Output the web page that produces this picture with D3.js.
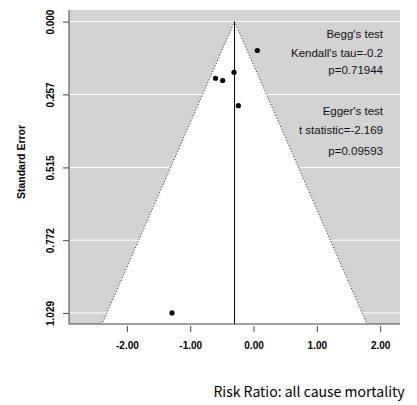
<!DOCTYPE html>
<html>
<head>
<meta charset="utf-8">
<script src="https://cdn.jsdelivr.net/npm/d3@7"></script>
<style>
  body { margin: 0; background: #fff; }
  svg { display: block; }
</style>
</head>
<body>
<svg width="417" height="405"></svg>
<script>
// data
const estimates = [0.06, -0.60, -0.487, -0.308, -0.239, -1.288]
const stdErrors = [0.102, 0.200, 0.208, 0.179, 0.297, 1.029]
const summary = -0.30
const xTicks = [-2, -1, 0, 1, 2]
const yTicks = [0, 0.257, 0.515, 0.772, 1.029]
const beggLines = ["Begg's test", "Kendall's tau=-0.2", "p=0.71944"]
const eggerLines = ["Egger's test", "t statistic=-2.169", "p=0.09593"]

//constants
const padL = 69, padR = 400, padT = 10, padB = 324
const svg = d3.select('svg')
const sans = 'Arial, "Liberation Sans", sans-serif'

//scales
const x = d3.scaleLinear().domain([-2.915, 2.314]).range([padL, padR])
const y = d3.scaleLinear().domain([-0.041, 1.068]).range([padT, padB])
const seMax = y.domain()[1]

svg.append('clipPath').attr('id', 'panel')
    .append('rect')
    .attr('x', padL).attr('y', padT)
    .attr('width', padR - padL).attr('height', padB - padT)

const g = svg.append('g').attr('clip-path', 'url(#panel)')

//background
g.append('rect')
    .attr('x', padL).attr('y', padT)
    .attr('width', padR - padL).attr('height', padB - padT)
    .attr('fill', '#d3d3d3')

//grid lines
g.selectAll('.grid')
    .data(yTicks)
    .enter()
    .append('line')
    .attr('x1', padL).attr('x2', padR)
    .attr('y1', d => y(d)).attr('y2', d => y(d))
    .attr('stroke', '#fff')
    .attr('stroke-width', 1)

//funnel
const funnel = [[summary, 0], [summary - 1.96 * seMax, seMax], [summary + 1.96 * seMax, seMax]]
g.append('polygon')
    .attr('points', funnel.map(d => x(d[0]) + ',' + y(d[1])).join(' '))
    .attr('fill', '#fff')

g.selectAll('.edge')
    .data([funnel[1], funnel[2]])
    .enter()
    .append('line')
    .attr('x1', x(summary)).attr('y1', y(0))
    .attr('x2', d => x(d[0])).attr('y2', d => y(d[1]))
    .attr('stroke', '#222')
    .attr('stroke-width', 1)
    .attr('stroke-dasharray', '1,2')

g.append('line')
    .attr('x1', x(summary)).attr('x2', x(summary))
    .attr('y1', y(0)).attr('y2', padB)
    .attr('stroke', '#000')
    .attr('stroke-width', 1)

//points
g.selectAll('circle')
    .data(estimates)
    .enter()
    .append('circle')
    .attr('cx', d => x(d))
    .attr('cy', (_, i) => y(stdErrors[i]))
    .attr('r', 2.6)
    .attr('fill', '#000')

//axis lines
svg.append('path')
    .attr('d', `M${padL},${padT}V${padB}H${padR}`)
    .attr('fill', 'none')
    .attr('stroke', '#444')
    .attr('stroke-width', 1)

//axes
const xAxis = svg.append('g')
    .attr('transform', 'translate(0,' + (padB + 2) + ')')
    .call(d3.axisBottom(x).tickValues(xTicks).tickSize(6))
xAxis.select('.domain').remove()
xAxis.selectAll('line').attr('stroke', '#444')
xAxis.selectAll('text')
    .attr('dy', '1.4em')
    .style('font-family', sans)
    .style('font-size', '10px')
    .style('font-weight', 'bold')
    .attr('fill', '#000')
    .text(d => d.toFixed(2))

const yAxis = svg.append('g')
    .attr('transform', 'translate(' + padL + ',0)')
    .call(d3.axisLeft(y).tickValues(yTicks).tickSize(6).tickFormat(d3.format('.3f')))
yAxis.select('.domain').remove()
yAxis.selectAll('line').attr('stroke', '#444')
yAxis.selectAll('text')
    .attr('x', 0).attr('dy', 0)
    .attr('transform', 'translate(-19,0) rotate(-90)')
    .attr('text-anchor', 'middle')
    .attr('dominant-baseline', 'central')
    .style('font-family', sans)
    .style('font-size', '10px')
    .style('font-weight', 'bold')
    .attr('fill', '#000')

//test annotations
const noteX = 383
const beggY = [38, 57, 74]
const eggerY = [115, 134, 155]
svg.selectAll('.begg')
    .data(beggLines)
    .enter()
    .append('text')
    .attr('x', noteX)
    .attr('y', (_, i) => beggY[i])
    .attr('text-anchor', 'end')
    .style('font-family', sans)
    .style('font-size', '11.5px')
    .attr('fill', '#111')
    .text(d => d)

svg.selectAll('.egger')
    .data(eggerLines)
    .enter()
    .append('text')
    .attr('x', noteX)
    .attr('y', (_, i) => eggerY[i])
    .attr('text-anchor', 'end')
    .style('font-family', sans)
    .style('font-size', '11.5px')
    .attr('fill', '#111')
    .text(d => d)

//labels
svg.append('text')
    .attr('transform', 'translate(25,162) rotate(-90)')
    .attr('text-anchor', 'middle')
    .style('font-family', sans)
    .style('font-size', '10.5px')
    .style('font-weight', 'bold')
    .attr('fill', '#000')
    .text('Standard Error')

svg.append('text')
    .attr('x', 309)
    .attr('y', 397)
    .attr('text-anchor', 'middle')
    .style('font-family', '"Noto Sans CJK JP", sans-serif')
    .style('font-size', '14px')
    .attr('fill', '#000')
    .text('Risk Ratio: all cause mortality')
</script>
</body>
</html>
